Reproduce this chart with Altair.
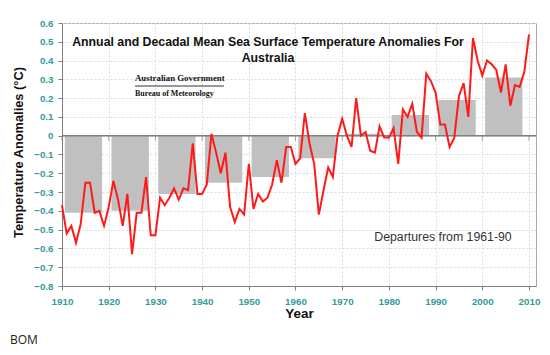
import altair as alt
import pandas as pd

# ---------------- data ----------------
years = list(range(1910, 2011))
anomalies = [
    -0.37, -0.52, -0.48, -0.57, -0.47, -0.25, -0.25, -0.41, -0.40, -0.48,  # 1910s
    -0.38, -0.24, -0.34, -0.48, -0.31, -0.63, -0.41, -0.41, -0.22, -0.53,  # 1920s
    -0.53, -0.33, -0.37, -0.33, -0.28, -0.34, -0.28, -0.29, -0.04, -0.31,  # 1930s
    -0.31, -0.26, 0.01, -0.09, -0.20, -0.09, -0.38, -0.46, -0.39, -0.42,   # 1940s
    -0.15, -0.39, -0.31, -0.35, -0.33, -0.26, -0.13, -0.25, -0.06, -0.06,  # 1950s
    -0.15, -0.12, 0.12, -0.04, -0.15, -0.42, -0.29, -0.17, -0.22, 0.00,    # 1960s
    0.09, 0.00, -0.06, 0.20, 0.00, 0.02, -0.08, -0.09, 0.05, -0.01,        # 1970s
    -0.01, 0.04, -0.15, 0.14, 0.10, 0.17, 0.02, -0.01, 0.33, 0.29,         # 1980s
    0.23, 0.06, 0.06, -0.06, -0.01, 0.21, 0.28, 0.10, 0.52, 0.40,          # 1990s
    0.32, 0.40, 0.38, 0.35, 0.23, 0.38, 0.16, 0.27, 0.26, 0.34,            # 2000s
    0.54,                                                                   # 2010
]
decades = [1910, 1920, 1930, 1940, 1950, 1960, 1970, 1980, 1990, 2000]
decadal_means = [-0.41, -0.40, -0.31, -0.25, -0.22, -0.12, 0.01, 0.11, 0.19, 0.31]
x_ticks = [1910, 1920, 1930, 1940, 1950, 1960, 1970, 1980, 1990, 2000, 2010]
y_ticks = [-0.8, -0.7, -0.6, -0.5, -0.4, -0.3, -0.2, -0.1, 0.0, 0.1, 0.2, 0.3, 0.4, 0.5, 0.6]
title_text = "Annual and Decadal Mean Sea Surface Temperature Anomalies For\nAustralia"
note_text = "Departures from 1961-90"
logo_line1 = "Australian Government"
logo_line2 = "Bureau of Meteorology"
source_text = "BOM"

annual = pd.DataFrame({"Year": years, "Anomaly": anomalies})
dec = pd.DataFrame({
    "start": [d + 0.6 for d in decades],
    "end": [d + 8.6 for d in decades],
    "mean": decadal_means,
})
zero_df = pd.DataFrame({"y": [0.0]})
dec_ticks_df = pd.DataFrame({"x": x_ticks, "y": [0.0] * len(x_ticks)})
one = pd.DataFrame({"k": [0]})

TEAL = "#349a9a"
FONT = "Liberation Sans"
GRID = "#dadada"

xscale = alt.Scale(domain=[1910, 2011.5], nice=False, zero=False)
yscale = alt.Scale(domain=[-0.8, 0.6], nice=False, zero=False)

xaxis = alt.Axis(
    values=x_ticks, format="d", title="Year",
    grid=True, gridColor=GRID, gridDash=[2, 2], gridWidth=1,
    labelColor=TEAL, labelFont=FONT, labelFontWeight="bold", labelFontSize=9.8,
    labelPadding=6, tickSize=4, tickColor="#808080", domainColor="#808080",
    titleFont=FONT, titleFontSize=13.5, titleFontWeight="bold", titleColor="#111111",
    titlePadding=1, labelFlush=False,
)
yaxis = alt.Axis(
    values=y_ticks, title="Temperature Anomalies (°C)",
    labelExpr="datum.value == 0 ? '0' : format(datum.value, '.1f')",
    grid=True, gridColor=GRID, gridDash=[2, 2], gridWidth=1,
    labelColor=TEAL, labelFont=FONT, labelFontWeight="bold", labelFontSize=9.8,
    labelPadding=5, tickSize=4, tickColor="#808080", domainColor="#808080",
    titleFont=FONT, titleFontSize=12.8, titleFontWeight="bold", titleColor="#111111",
    titleX=-44, titleY=129, titleAngle=270, titleAlign="center", titleBaseline="middle",
    labelFlush=False,
)

bars = alt.Chart(dec).mark_rect(color="#c0c0c0").encode(
    x=alt.X("start:Q", scale=xscale, axis=xaxis),
    x2="end:Q",
    y=alt.Y("mean:Q", scale=yscale, axis=yaxis),
    y2=alt.datum(0),
)

zero_line = alt.Chart(zero_df).mark_rule(color="#808080", strokeWidth=1.5).encode(
    y=alt.Y("y:Q", scale=yscale, axis=yaxis)
)

zero_ticks = alt.Chart(dec_ticks_df).mark_tick(
    color="#808080", orient="vertical", size=5, thickness=1, yOffset=2.5
).encode(
    x=alt.X("x:Q", scale=xscale, axis=xaxis),
    y=alt.Y("y:Q", scale=yscale, axis=yaxis),
)

line = alt.Chart(annual).mark_line(color="#ff1a1a", strokeWidth=2).encode(
    x=alt.X("Year:Q", scale=xscale, axis=xaxis),
    y=alt.Y("Anomaly:Q", scale=yscale, axis=yaxis),
)

title = alt.Chart(one).mark_text(
    font=FONT, fontSize=12.3, fontWeight="bold", color="#111111",
    align="center", baseline="middle", lineBreak="\n", lineHeight=16,
).encode(x=alt.value(206), y=alt.value(19), text=alt.value(title_text))

logo1 = alt.Chart(one).mark_text(
    font="Liberation Serif", fontSize=8.8, fontWeight="bold", color="#111111",
    align="left", baseline="middle",
).encode(x=alt.value(73), y=alt.value(55), text=alt.value(logo_line1))

logo_rule = alt.Chart(one).mark_rule(color="#333333", strokeWidth=1).encode(
    x=alt.value(73), x2=alt.value(162), y=alt.value(63)
)

logo2 = alt.Chart(one).mark_text(
    font="Liberation Serif", fontSize=8.0, fontWeight="bold", color="#111111",
    align="left", baseline="middle",
).encode(x=alt.value(73), y=alt.value(71), text=alt.value(logo_line2))

note = alt.Chart(one).mark_text(
    font=FONT, fontSize=12.3, color="#333333", align="center", baseline="middle",
).encode(x=alt.value(381), y=alt.value(214), text=alt.value(note_text))

source = alt.Chart(one).mark_text(
    font="Open Sans", fontSize=12, color="#222222", align="left", baseline="middle",
).encode(x=alt.value(-52), y=alt.value(317), text=alt.value(source_text))

chart = alt.layer(
    bars, zero_line, zero_ticks, line, title, logo1, logo_rule, logo2, note, source
).properties(
    width=474, height=263,
    padding={"left": 54, "top": 15, "right": 6, "bottom": 64},
    autosize=alt.AutoSizeParams(type="none"),
    background="white",
).configure_view(stroke="#a6a6a6", strokeWidth=1)

chart.save("out.html", embed_options={"renderer": "svg", "actions": False})
